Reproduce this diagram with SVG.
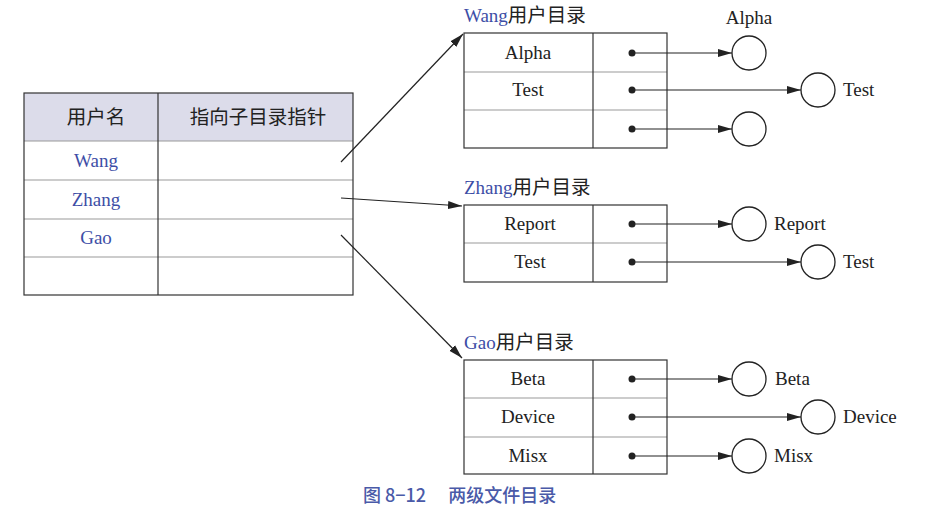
<svg xmlns="http://www.w3.org/2000/svg" width="925" height="510" viewBox="0 0 925 510">
<style>
.t{font-family:"Liberation Serif","Noto Sans CJK SC",serif;font-size:19px;fill:#222;}
.b{fill:#3d4ea6;}
.c{text-anchor:middle;}
.cjk{font-family:"Noto Sans CJK SC",sans-serif;font-size:19.5px;fill:#222;}
.box{fill:none;stroke:#333;stroke-width:1.2;}
.row{stroke:#999;stroke-width:1;}
.ln{stroke:#222;stroke-width:1.2;fill:none;}
.circ{fill:#fff;stroke:#222;stroke-width:1.3;}
</style>
<defs>
<marker id="ah" viewBox="0 0 14 10" refX="14" refY="5" markerWidth="14" markerHeight="10" markerUnits="userSpaceOnUse" orient="auto">
<path d="M0,1 L14,5 L0,9 Z" fill="#222"/>
</marker>
</defs>
<rect width="925" height="510" fill="#fff"/>

<g id="user-table">
<rect x="24" y="93" width="329" height="48" fill="#dcdcea"/>
<line class="row" x1="24" y1="141" x2="353" y2="141"/>
<line class="row" x1="24" y1="180" x2="353" y2="180"/>
<line class="row" x1="24" y1="219" x2="353" y2="219"/>
<line class="row" x1="24" y1="257" x2="353" y2="257"/>
<line class="box" x1="158" y1="93" x2="158" y2="295"/>
<rect class="box" x="24" y="93" width="329" height="202"/>
<text class="cjk c" x="96" y="124">用户名</text>
<text class="cjk c" x="258" y="124">指向子目录指针</text>
<text class="t b c" x="96" y="167">Wang</text>
<text class="t b c" x="96" y="206">Zhang</text>
<text class="t b c" x="96" y="244">Gao</text>
</g>

<g id="wang-dir">
<text x="464" y="22"><tspan class="t b">Wang</tspan><tspan class="cjk">用户目录</tspan></text>
<line class="row" x1="464" y1="72" x2="667" y2="72"/>
<line class="row" x1="464" y1="110" x2="667" y2="110"/>
<line class="box" x1="593" y1="33" x2="593" y2="148"/>
<rect class="box" x="464" y="33" width="203" height="115"/>
<text class="t c" x="528" y="59">Alpha</text>
<text class="t c" x="528" y="96">Test</text>
</g>

<g id="zhang-dir">
<text x="464" y="194"><tspan class="t b">Zhang</tspan><tspan class="cjk">用户目录</tspan></text>
<line class="row" x1="464" y1="243" x2="667" y2="243"/>
<line class="box" x1="593" y1="205" x2="593" y2="282"/>
<rect class="box" x="464" y="205" width="203" height="77"/>
<text class="t c" x="530" y="230">Report</text>
<text class="t c" x="530" y="268">Test</text>
</g>

<g id="gao-dir">
<text x="464" y="349"><tspan class="t b">Gao</tspan><tspan class="cjk">用户目录</tspan></text>
<line class="row" x1="464" y1="398" x2="667" y2="398"/>
<line class="row" x1="464" y1="437" x2="667" y2="437"/>
<line class="box" x1="593" y1="360" x2="593" y2="474"/>
<rect class="box" x="464" y="360" width="203" height="114"/>
<text class="t c" x="528" y="385">Beta</text>
<text class="t c" x="528" y="423">Device</text>
<text class="t c" x="528" y="462">Misx</text>
</g>

<g id="files">
<circle class="circ" cx="749" cy="53" r="17"/>
<text class="t c" x="749" y="24">Alpha</text>
<circle class="circ" cx="818" cy="90" r="17"/>
<text class="t" x="843" y="96">Test</text>
<circle class="circ" cx="749" cy="129" r="17"/>
<circle class="circ" cx="749" cy="224" r="17"/>
<text class="t" x="774" y="230">Report</text>
<circle class="circ" cx="818" cy="262" r="17"/>
<text class="t" x="843" y="268">Test</text>
<circle class="circ" cx="749" cy="379" r="17"/>
<text class="t" x="775" y="385">Beta</text>
<circle class="circ" cx="818" cy="417" r="17"/>
<text class="t" x="843" y="423">Device</text>
<circle class="circ" cx="749" cy="456" r="17"/>
<text class="t" x="774" y="462">Misx</text>
</g>

<g id="connectors">
<line class="ln" x1="341" y1="162" x2="463" y2="34" marker-end="url(#ah)"/>
<line class="ln" x1="341" y1="198" x2="462" y2="206" marker-end="url(#ah)"/>
<line class="ln" x1="341" y1="235" x2="462" y2="358" marker-end="url(#ah)"/>
<g fill="#222">
<circle cx="632" cy="53" r="3.5"/>
<circle cx="632" cy="90" r="3.5"/>
<circle cx="632" cy="129" r="3.5"/>
<circle cx="632" cy="224" r="3.5"/>
<circle cx="632" cy="262" r="3.5"/>
<circle cx="632" cy="379" r="3.5"/>
<circle cx="632" cy="417" r="3.5"/>
<circle cx="632" cy="456" r="3.5"/>
</g>
<line class="ln" x1="632" y1="53" x2="732" y2="53" marker-end="url(#ah)"/>
<line class="ln" x1="632" y1="90" x2="801" y2="90" marker-end="url(#ah)"/>
<line class="ln" x1="632" y1="129" x2="732" y2="129" marker-end="url(#ah)"/>
<line class="ln" x1="632" y1="224" x2="732" y2="224" marker-end="url(#ah)"/>
<line class="ln" x1="632" y1="262" x2="801" y2="262" marker-end="url(#ah)"/>
<line class="ln" x1="632" y1="379" x2="732" y2="379" marker-end="url(#ah)"/>
<line class="ln" x1="632" y1="417" x2="801" y2="417" marker-end="url(#ah)"/>
<line class="ln" x1="632" y1="456" x2="732" y2="456" marker-end="url(#ah)"/>
</g>

<text x="363" y="502" style="font-family:'Noto Sans CJK SC',sans-serif;font-size:18px;font-weight:500;fill:#4a5aa8;">图 8−12　 两级文件目录</text>
</svg>
